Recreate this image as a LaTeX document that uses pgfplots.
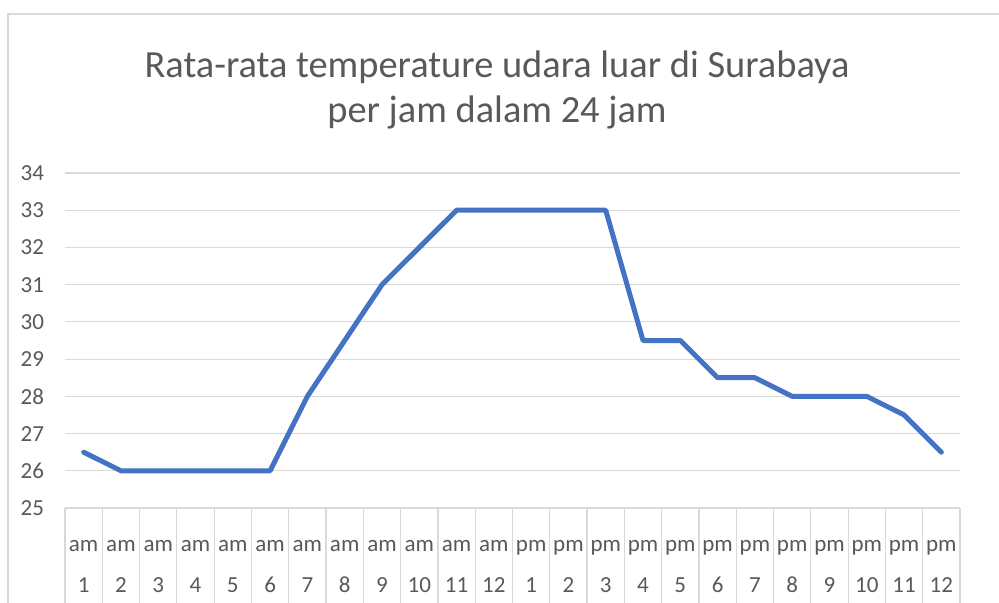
\documentclass[border=0pt]{standalone}
\usepackage{pgfplots}
\pgfplotsset{compat=1.18}
\usepackage{fontspec}
\setmainfont{Carlito}
\definecolor{txt}{HTML}{595959}
\definecolor{grd}{HTML}{D9D9D9}
\definecolor{ln}{HTML}{4472C4}
\begin{document}
\begin{tikzpicture}
\useasboundingbox (0,0) rectangle (499.5pt,301.5pt);
\begin{axis}[
  at={(32.5pt,47.5pt)}, anchor=south west,
  scale only axis, width=447.5pt, height=167.5pt,
  xmin=0.5, xmax=24.5, ymin=25, ymax=34,
  ytick={25,...,34},
  ymajorgrids, grid style={grd, line width=0.6pt},
  axis line style={draw=none},
  xtick={1,...,24},
  xticklabels={am\\[7pt]1,am\\[7pt]2,am\\[7pt]3,am\\[7pt]4,am\\[7pt]5,am\\[7pt]6,am\\[7pt]7,am\\[7pt]8,am\\[7pt]9,am\\[7pt]10,am\\[7pt]11,am\\[7pt]12,pm\\[7pt]1,pm\\[7pt]2,pm\\[7pt]3,pm\\[7pt]4,pm\\[7pt]5,pm\\[7pt]6,pm\\[7pt]7,pm\\[7pt]8,pm\\[7pt]9,pm\\[7pt]10,pm\\[7pt]11,pm\\[7pt]12},
  minor xtick={0.5,1.5,...,24.5},
  major tick length=0pt, minor tick length=60pt, tick align=outside,
  xtick pos=bottom, ytick pos=left,
  minor tick style={grd, line width=0.6pt},
  xticklabel style={align=center, font=\fontsize{11.5}{13.5}\selectfont, text=txt, yshift=-12.5pt},
  yticklabel style={font=\fontsize{11.5}{13.5}\selectfont, text=txt, xshift=-7pt},
  /pgf/number format/assume math mode=true,
  clip=false,
]
\addplot[ln, line width=2.5pt, line join=round, line cap=round] coordinates {
(1,26.5) (2,26) (3,26) (4,26) (5,26) (6,26) (7,28) (8,29.5) (9,31) (10,32) (11,33) (12,33)
(13,33) (14,33) (15,33) (16,29.5) (17,29.5) (18,28.5) (19,28.5) (20,28) (21,28) (22,28) (23,27.5) (24,26.5)
};
\end{axis}
\node[anchor=base, text=txt, font=\fontsize{19.2}{23}\selectfont] at (248.5pt,262.5pt) {Rata-rata temperature udara luar di Surabaya};
\node[anchor=base, text=txt, font=\fontsize{19.2}{23}\selectfont] at (248.5pt,240pt) {per jam dalam 24 jam};
\draw[grd, line width=0.8pt] (4pt,-10pt) |- (520pt,294.5pt);
\end{tikzpicture}
\end{document}
